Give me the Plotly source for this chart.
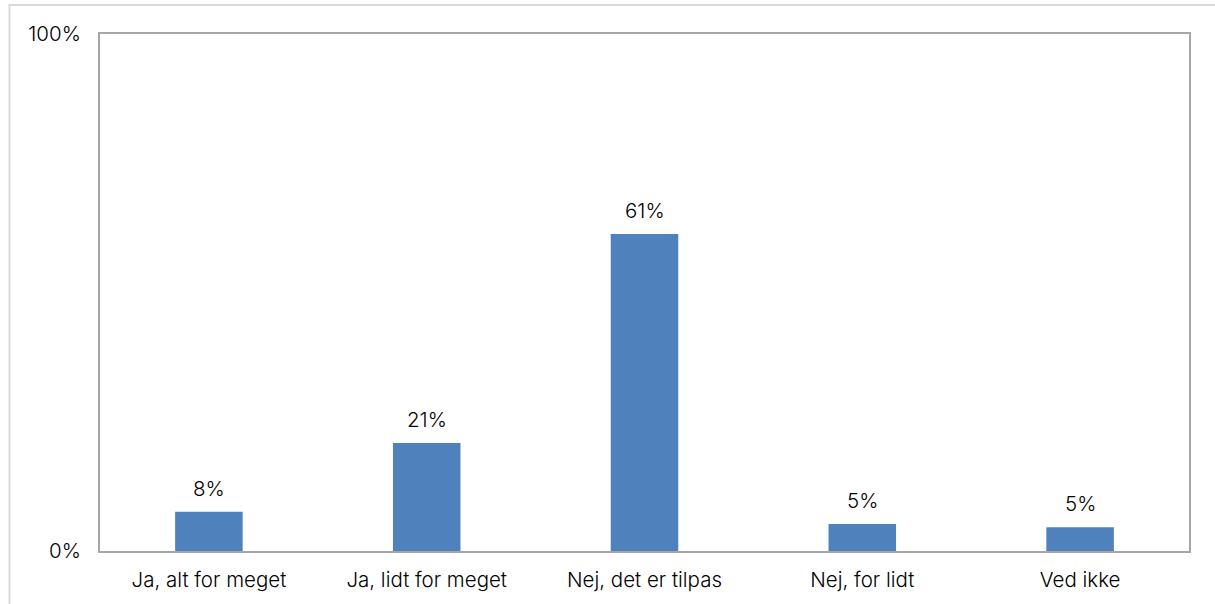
import plotly.graph_objects as go

categories = ["Ja, alt for meget", "Ja, lidt for meget", "Nej, det er tilpas", "Nej, for lidt", "Ved ikke"]
shares = [7.6, 20.9, 61.3, 5.2, 4.6]
y_ticks = [0, 100]
y_tick_labels = ["0%", "100%"]

BAR_COLOR = "#4F81BD"
FONT = "Inter"
FONT_SIZE = 20.5

fig = go.Figure(
    go.Bar(
        x=categories,
        y=shares,
        marker=dict(color=BAR_COLOR, line=dict(width=0)),
        width=0.31,
        hoverinfo="skip",
    )
)

# value labels above each bar
for cat, val in zip(categories, shares):
    fig.add_annotation(
        x=cat, y=val, text=f"{round(val)}%", showarrow=False,
        yanchor="bottom", yshift=9,
        font=dict(family=FONT, size=FONT_SIZE, color="#000000", weight=300),
    )

# light frame around the whole chart
fig.add_shape(
    type="rect", xref="paper", yref="paper",
    x0=-0.0831, x1=1.2, y0=-0.3, y1=1.056,
    line=dict(color="#D9D9D9", width=2), fillcolor="rgba(0,0,0,0)", layer="below",
)

fig.update_layout(
    width=1215, height=604,
    margin=dict(l=100, r=26, t=34, b=53),
    paper_bgcolor="white", plot_bgcolor="white",
    showlegend=False,
    font=dict(family=FONT, size=FONT_SIZE, color="#000000", weight=300),
    xaxis=dict(
        showline=True, mirror=True, linecolor="#A6A6A6", linewidth=2,
        showgrid=False, ticks="", ticklabelstandoff=9,
        tickfont=dict(size=FONT_SIZE, weight=300),
    ),
    yaxis=dict(
        range=[0, 100], tickvals=y_ticks, ticktext=y_tick_labels,
        showline=True, mirror=True, linecolor="#A6A6A6", linewidth=2,
        showgrid=False, zeroline=False, ticks="", ticklabelstandoff=13,
        tickfont=dict(size=FONT_SIZE, weight=300),
    ),
)

fig.write_html("out.html")
